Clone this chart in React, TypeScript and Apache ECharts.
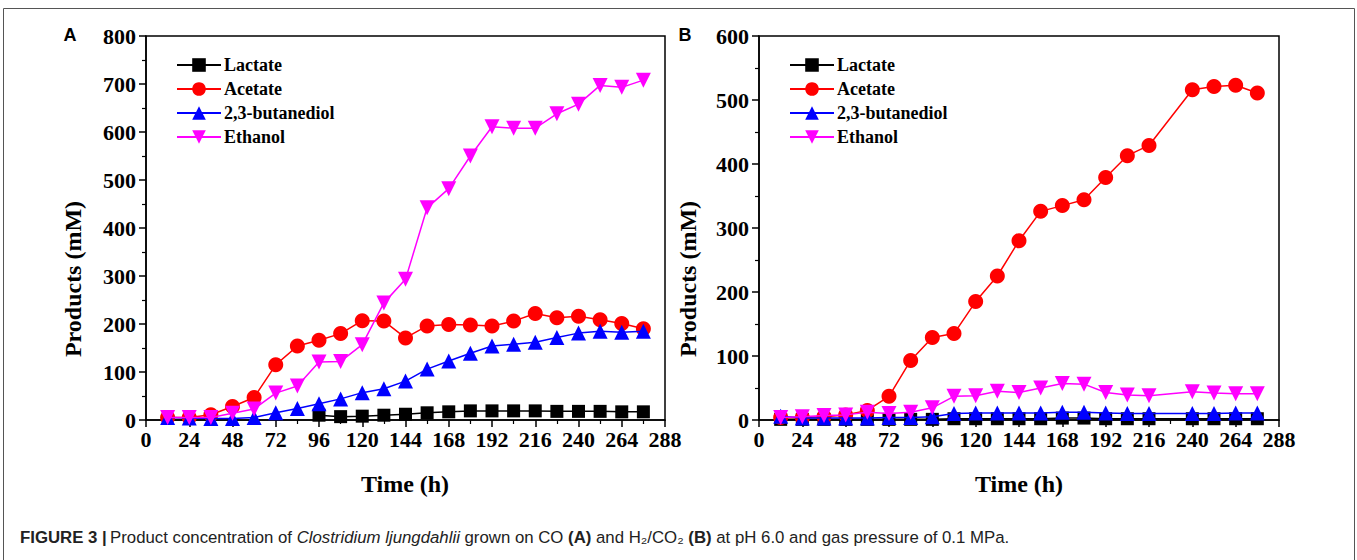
import React, { useEffect, useRef } from "react";
import * as echarts from "echarts";

const seriesNames = ["Lactate", "Acetate", "2,3-butanediol", "Ethanol"];
const xTicks = [0, 24, 48, 72, 96, 120, 144, 168, 192, 216, 240, 264, 288];

const timesA = [12, 24, 36, 48, 60, 72, 84, 96, 108, 120, 132, 144, 156, 168, 180, 192, 204, 216, 228, 240, 252, 264, 276];
const lactateTimesA = [96, 108, 120, 132, 144, 156, 168, 180, 192, 204, 216, 228, 240, 252, 264, 276];
const lactateA = [10, 7, 8, 10, 12, 15, 17, 19, 19, 19, 19, 18, 18, 18, 17, 17];
const acetateA = [5, 5, 11, 28, 47, 115, 154, 166, 180, 207, 206, 171, 196, 199, 198, 196, 206, 222, 213, 216, 209, 201, 190];
const butanediolA = [5, 4, 3, 3, 5, 15, 24, 34, 44, 57, 65, 81, 106, 123, 139, 154, 158, 162, 172, 181, 185, 183, 185];
const ethanolA = [5, 5, 5, 14, 23, 56, 71, 121, 122, 157, 244, 293, 442, 482, 550, 611, 608, 608, 638, 658, 697, 693, 708];

const timesB = [12, 24, 36, 48, 60, 72, 84, 96, 108, 120, 132, 144, 156, 168, 180, 192, 204, 216, 240, 252, 264, 276];
const lactateB = [1, 1, 1, 1, 1, 1, 1, 1, 2, 2, 2, 2, 2, 3, 3, 2, 2, 2, 2, 2, 2, 2];
const acetateB = [4, 4, 5, 8, 15, 37, 93, 129, 135, 185, 225, 280, 326, 335, 344, 379, 413, 429, 516, 521, 523, 511];
const butanediolB = [6, 3, 3, 3, 3, 4, 4, 5, 10, 11, 11, 11, 11, 12, 12, 11, 10, 10, 10, 10, 11, 11];
const ethanolB = [4, 5, 7, 8, 12, 10, 12, 19, 37, 38, 45, 43, 50, 57, 56, 43, 39, 38, 44, 42, 41, 41];

const SERIF = "'Liberation Serif', 'Times New Roman', serif";
const SANS = "'Liberation Sans', Arial, sans-serif";

const styles = [
  { color: "#000000", symbol: "rect", rotate: 0, size: 13 },
  { color: "#ff0000", symbol: "circle", rotate: 0, size: 15 },
  { color: "#0000ff", symbol: "triangle", rotate: 0, size: 15 },
  { color: "#ff00ff", symbol: "triangle", rotate: 180, size: 15 },
];

function makeSeries(idx: number, xsList: number[][], ys: number[][]) {
  return ys.map((vals, k) => ({
    type: "line",
    name: seriesNames[k],
    xAxisIndex: idx,
    yAxisIndex: idx,
    data: xsList[k].map((x, i) => [x, vals[i]]),
    symbol: styles[k].symbol,
    symbolSize: styles[k].size,
    symbolRotate: styles[k].rotate,
    showSymbol: true,
    clip: false,
    itemStyle: { color: styles[k].color },
    lineStyle: { color: styles[k].color, width: 1.5 },
    z: 2 + k,
  }));
}

function xAxis(gridIndex: number) {
  return {
    type: "value",
    gridIndex,
    min: 0,
    max: 288,
    interval: 24,
    axisLine: { onZero: false, lineStyle: { color: "#000", width: 1.5 } },
    axisTick: { show: true, length: 7, lineStyle: { color: "#000", width: 1.5 } },
    minorTick: { show: true, splitNumber: 2, length: 4, lineStyle: { color: "#000", width: 1.2 } },
    splitLine: { show: false },
    axisLabel: {
      color: "#000",
      fontFamily: SERIF,
      fontWeight: "bold",
      fontSize: 22,
      margin: 8,
      formatter: (v: number) => (xTicks.includes(v) ? String(v) : ""),
    },
  };
}

function yAxis(gridIndex: number, max: number) {
  return {
    type: "value",
    gridIndex,
    min: 0,
    max,
    interval: 100,
    axisLine: { show: true, onZero: false, lineStyle: { color: "#000", width: 1.5 } },
    axisTick: { show: true, length: 7, lineStyle: { color: "#000", width: 1.5 } },
    minorTick: { show: true, splitNumber: 2, length: 4, lineStyle: { color: "#000", width: 1.2 } },
    splitLine: { show: false },
    axisLabel: { color: "#000", fontFamily: SERIF, fontWeight: "bold", fontSize: 22, margin: 10 },
  };
}

function legend(left: number) {
  return {
    left,
    top: 51,
    orient: "vertical",
    itemWidth: 44,
    itemHeight: 17,
    itemGap: 6,
    selectedMode: false,
    data: seriesNames,
    textStyle: { color: "#000", fontFamily: SERIF, fontWeight: "bold", fontSize: 18, padding: [0, 0, 0, -2] },
  };
}

function text(x: number, y: number, t: string, font: string, size: number, rotation = 0, weight = "bold") {
  return {
    type: "text",
    x,
    y,
    rotation,
    silent: true,
    style: {
      text: t,
      fill: "#000",
      font: `${weight} ${size}px ${font}`,
      textAlign: "center",
      textVerticalAlign: "middle",
    },
  };
}

export default function App() {
  const ref = useRef<HTMLDivElement>(null);
  useEffect(() => {
    const chart = echarts.init(ref.current!, null, { renderer: "svg" });
    const option = {
      animation: false,
      backgroundColor: "#fff",
      grid: [
        { left: 146, top: 36, width: 519, height: 384, show: true, borderColor: "#000", borderWidth: 1.5, backgroundColor: "transparent" },
        { left: 759, top: 36, width: 520, height: 384, show: true, borderColor: "#000", borderWidth: 1.5, backgroundColor: "transparent" },
      ],
      xAxis: [xAxis(0), xAxis(1)],
      yAxis: [yAxis(0, 800), yAxis(1, 600)],
      legend: [legend(171), legend(784)],
      series: [
        ...makeSeries(0, [lactateTimesA, timesA, timesA, timesA], [lactateA, acetateA, butanediolA, ethanolA]),
        ...makeSeries(1, [timesB, timesB, timesB, timesB], [lactateB, acetateB, butanediolB, ethanolB]),
      ],
      graphic: [
        {
          type: "rect",
          silent: true,
          shape: { x: 3.5, y: 8.5, width: 1351, height: 600 },
          style: { fill: "none", stroke: "#555", lineWidth: 1 },
        },
        text(70, 35, "A", SANS, 18),
        text(685, 35, "B", SANS, 18),
        text(73, 279, "Products (mM)", SERIF, 24, Math.PI / 2),
        text(688, 279, "Products (mM)", SERIF, 24, Math.PI / 2),
        text(405, 484, "Time (h)", SERIF, 24),
        text(1019, 484, "Time (h)", SERIF, 24),
        {
          type: "text",
          x: 20,
          y: 537,
          silent: true,
          style: {
            text:
              "{b|FIGURE 3 |} {r|Product concentration of }{i|Clostridium ljungdahlii}{r| grown on CO }{b|(A)}{r| and H₂/CO₂ }{b|(B)}{r| at pH 6.0 and gas pressure of 0.1 MPa.}",
            textVerticalAlign: "middle",
            rich: {
              b: { fontFamily: SANS, fontWeight: "bold", fontSize: 16.8, fill: "#222" },
              r: { fontFamily: SANS, fontWeight: "normal", fontSize: 16.8, fill: "#222" },
              i: { fontFamily: SANS, fontStyle: "italic", fontWeight: "normal", fontSize: 16.8, fill: "#222" },
            },
          },
        },
      ],
    };
    chart.setOption(option as any);
    return () => chart.dispose();
  }, []);
  return (
    <div
      ref={ref}
      style={{ position: "fixed", left: 0, top: 0, width: 1357, height: 560, background: "#fff" }}
    />
  );
}
